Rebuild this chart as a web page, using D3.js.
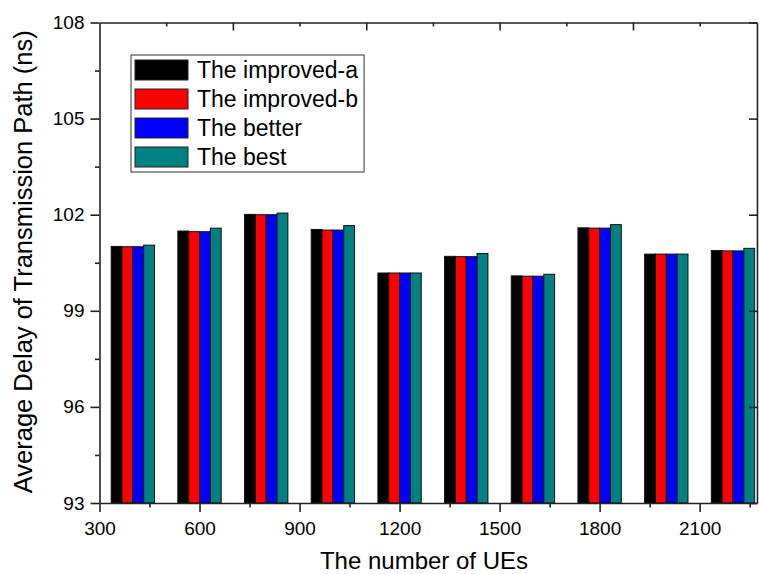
<!DOCTYPE html>
<html>
<head>
<meta charset="utf-8">
<script src="https://cdn.jsdelivr.net/npm/d3@7"></script>
<style>
  html, body { margin: 0; padding: 0; background: #fff; }
  svg { display: block; font-family: "Liberation Sans", Arial, sans-serif; }
</style>
</head>
<body>
<svg id="chart" width="759" height="574"></svg>
<script>
// ---- data ----
const categories = [400, 600, 800, 1000, 1200, 1400, 1600, 1800, 2000, 2200];
const seriesNames = ["The improved-a", "The improved-b", "The better", "The best"];
const improvedA = [101.01, 101.49, 102.01, 101.54, 100.18, 100.70, 100.09, 101.59, 100.77, 100.88];
const improvedB = [101.00, 101.47, 102.00, 101.52, 100.18, 100.69, 100.08, 101.58, 100.77, 100.87];
const better    = [101.00, 101.47, 102.00, 101.52, 100.18, 100.69, 100.08, 101.58, 100.77, 100.87];
const best      = [101.05, 101.58, 102.05, 101.66, 100.18, 100.79, 100.14, 101.69, 100.77, 100.95];
const seriesColors = ["#000000", "#ff0000", "#0000ff", "#008080"];
const xTickValues = [300, 600, 900, 1200, 1500, 1800, 2100];
const xMinorTicks = [450, 750, 1050, 1350, 1650, 1950, 2250];
const yTickValues = [93, 96, 99, 102, 105, 108];
const yMinorTicks = [94.5, 97.5, 100.5, 103.5, 106.5];
const topMajorTicks = [700, 1100, 1500, 1900];
const topMinorTicks = [500, 900, 1300, 1700, 2100];
const xTitle = "The number of UEs";
const yTitle = "Average Delay of Transmission Path (ns)";

const seriesValues = [improvedA, improvedB, better, best];

// ---- layout ----
const svg = d3.select("#chart");
const pLeft = 99.5, pRight = 757, pTop = 22.5, pBottom = 503;
const x = d3.scaleLinear().domain([300, 2272]).range([pLeft, pRight]);
const y = d3.scaleLinear().domain([93, 108]).range([pBottom, pTop]);
const barUnits = 32.5;

// bars
const gBars = svg.append("g");
seriesValues.forEach((vals, si) => {
  gBars.selectAll(null)
    .data(categories.map((c, i) => ({ c, v: vals[i] })))
    .enter().append("rect")
    .attr("x", d => x(d.c - 2 * barUnits + si * barUnits))
    .attr("width", x(300 + barUnits) - x(300))
    .attr("y", d => y(d.v))
    .attr("height", d => y(93) - y(d.v))
    .attr("fill", seriesColors[si])
    .attr("stroke", "#111")
    .attr("stroke-width", 1);
});

const axisColor = "#222";
const styleAxis = g => {
  g.select(".domain").attr("stroke", axisColor).attr("stroke-width", 1.6);
  g.selectAll(".tick line").attr("stroke", axisColor).attr("stroke-width", 1.6);
  g.selectAll(".tick text").attr("fill", "#000").attr("font-size", 19)
    .attr("font-family", "Liberation Sans, Arial, sans-serif");
};
const styleTicksOnly = g => {
  g.select(".domain").remove();
  g.selectAll(".tick line").attr("stroke", axisColor).attr("stroke-width", 1.6);
};

// bottom axis
const gx = svg.append("g").attr("transform", `translate(0,${pBottom})`)
  .call(d3.axisBottom(x).tickValues(xTickValues).tickSize(9).tickPadding(5).tickSizeOuter(0).tickFormat(d3.format("d")));
styleAxis(gx);
gx.selectAll(".tick text").attr("dy", "0.95em");
svg.append("g").attr("transform", `translate(0,${pBottom})`)
  .call(d3.axisBottom(x).tickValues(xMinorTicks).tickSize(4.5).tickSizeOuter(0).tickFormat(""))
  .call(styleTicksOnly);

// left axis
const gy = svg.append("g").attr("transform", `translate(${pLeft},0)`)
  .call(d3.axisLeft(y).tickValues(yTickValues).tickSize(9).tickPadding(6).tickSizeOuter(0).tickFormat(d3.format("d")));
styleAxis(gy);
svg.append("g").attr("transform", `translate(${pLeft},0)`)
  .call(d3.axisLeft(y).tickValues(yMinorTicks).tickSize(4.5).tickSizeOuter(0).tickFormat(""))
  .call(styleTicksOnly);

// top axis (inward ticks)
const gTop = svg.append("g").attr("transform", `translate(0,${pTop})`)
  .call(d3.axisBottom(x).tickValues(topMajorTicks).tickSize(8).tickSizeOuter(0).tickFormat(""));
styleAxis(gTop);
svg.append("g").attr("transform", `translate(0,${pTop})`)
  .call(d3.axisBottom(x).tickValues(topMinorTicks).tickSize(4).tickSizeOuter(0).tickFormat(""))
  .call(styleTicksOnly);

// right axis (inward ticks)
const gRight = svg.append("g").attr("transform", `translate(${pRight},0)`)
  .call(d3.axisRight(y).tickValues(yTickValues).tickSize(-8).tickSizeOuter(0).tickFormat(""));
styleAxis(gRight);

// titles
svg.append("text").attr("x", 424).attr("y", 569).attr("text-anchor", "middle")
  .attr("font-size", 24).attr("fill", "#000").text(xTitle);
svg.append("text").attr("transform", `translate(32,${(pTop + pBottom) / 2 - 1}) rotate(-90)`)
  .attr("text-anchor", "middle").attr("font-size", 25.5).attr("fill", "#000").text(yTitle);

// legend
const lg = svg.append("g");
const lgBox = lg.append("rect").attr("x", 131).attr("y", 55).attr("height", 117)
  .attr("fill", "#fff").attr("stroke", "#333").attr("stroke-width", 1);
let maxW = 0;
seriesNames.forEach((name, i) => {
  const ry = 60 + i * 29;
  lg.append("rect").attr("x", 135).attr("y", ry).attr("width", 53).attr("height", 20)
    .attr("fill", seriesColors[i]).attr("stroke", "#222").attr("stroke-width", 1);
  const t = lg.append("text").attr("x", 197).attr("y", ry + 17.5).attr("font-size", 23)
    .attr("fill", "#000").text(name);
  maxW = Math.max(maxW, t.node().getComputedTextLength());
});
lgBox.attr("width", 197 + maxW + 6 - 131);
</script>
</body>
</html>
